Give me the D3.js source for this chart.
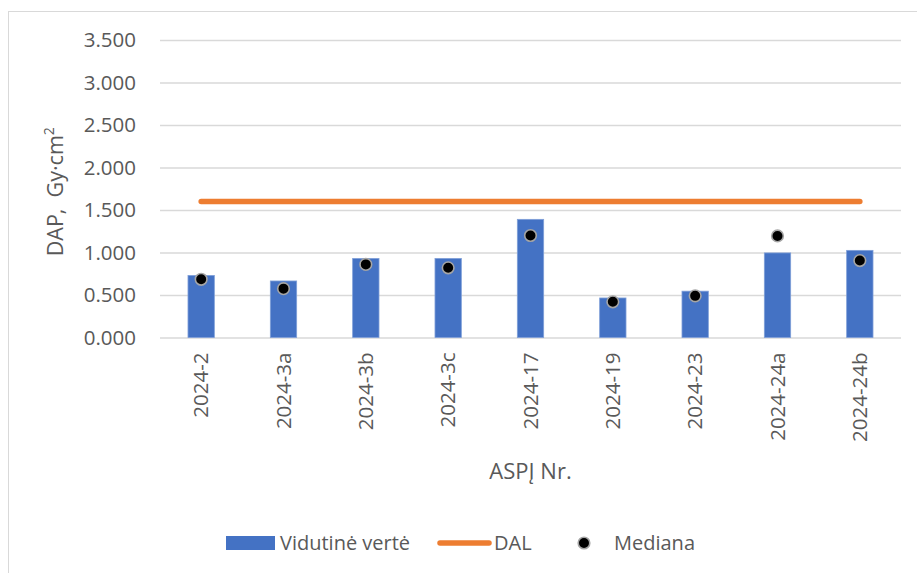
<!DOCTYPE html>
<html>
<head>
<meta charset="utf-8">
<script src="https://cdn.jsdelivr.net/npm/d3@7"></script>
<style>
  body { margin: 0; background: #fff; }
  text { font-family: "Open Sans", sans-serif; fill: #595959; }
</style>
</head>
<body>
<div id="chart"></div>
<script>
// chart data
var categories = ["2024-2", "2024-3a", "2024-3b", "2024-3c", "2024-17", "2024-19", "2024-23", "2024-24a", "2024-24b"];
var meanValues = [0.73, 0.665, 0.93, 0.93, 1.39, 0.465, 0.545, 0.995, 1.025];
var medianValues = [0.685, 0.575, 0.86, 0.82, 1.2, 0.42, 0.49, 1.195, 0.905];
var dalValue = 1.6;
var yTicks = [0, 0.5, 1, 1.5, 2, 2.5, 3, 3.5];

var width = 917;
var height = 573;

var svg = d3.select('#chart')
  .append('svg')
  .attr('width', width)
  .attr('height', height);

// outer chart border
svg.append('rect')
  .attr('x', 8.5).attr('y', 11.5)
  .attr('width', 920).attr('height', 580)
  .attr('fill', 'none')
  .attr('stroke', '#d9d9d9')
  .attr('stroke-width', 1);

var x = d3.scaleBand()
  .domain(categories)
  .range([160, 901])
  .paddingInner(0.68)
  .paddingOuter(0.34);

var y = d3.scaleLinear()
  .domain([0, 3.5])
  .range([337.5, 40]);

var fmt = function(d) { return d3.format('.3f')(d); };

// gridlines + y labels
var yAxis = d3.axisLeft(y)
  .tickValues(yTicks)
  .tickFormat(fmt)
  .tickSize(-(901 - 160))
  .tickPadding(24);

var gy = svg.append('g')
  .attr('transform', 'translate(160,0)')
  .call(yAxis);
gy.select('.domain').remove();
gy.selectAll('line').attr('stroke', '#d9d9d9').attr('stroke-width', 1.5);
gy.selectAll('text')
  .style('font-size', '20.5px')
  .attr('fill', '#595959');

// x labels, rotated
var xAxis = d3.axisBottom(x).tickSize(0).tickPadding(0);
var gx = svg.append('g')
  .attr('transform', 'translate(0,' + y(0) + ')')
  .call(xAxis);
gx.select('.domain').remove();
gx.selectAll('text')
  .style('font-size', '20.5px')
  .attr('fill', '#595959')
  .attr('text-anchor', 'end')
  .attr('transform', 'rotate(-90)')
  .attr('x', -15)
  .attr('y', 0)
  .attr('dy', '0.35em');

// bars
svg.append('g')
  .selectAll('rect')
  .data(meanValues)
  .enter()
  .append('rect')
  .attr('x', (d, i) => x(categories[i]))
  .attr('y', d => y(d))
  .attr('width', x.bandwidth())
  .attr('height', d => y(0) - y(d))
  .attr('fill', '#4472c4')
  .attr('stroke', '#7f9fd8')
  .attr('stroke-width', 0.8);

// DAL line
var line = d3.line()
  .x(d => x(d) + x.bandwidth() / 2)
  .y(() => y(dalValue));

svg.append('path')
  .datum(categories)
  .attr('d', line)
  .attr('fill', 'none')
  .attr('stroke', '#ed7d31')
  .attr('stroke-width', 5.5)
  .attr('stroke-linecap', 'round');

// medians
svg.append('g')
  .selectAll('circle')
  .data(medianValues)
  .enter()
  .append('circle')
  .attr('cx', (d, i) => x(categories[i]) + x.bandwidth() / 2)
  .attr('cy', d => y(d))
  .attr('r', 5.8)
  .attr('fill', '#000')
  .attr('stroke', '#a5a5a5')
  .attr('stroke-width', 1.6);

// axis titles
svg.append('text')
  .attr('transform', 'translate(63,' + ((y(0) + y(3.5)) / 2 + 3) + ') rotate(-90)')
  .attr('text-anchor', 'middle')
  .style('font-size', '21.5px')
  .style('white-space', 'pre')
  .html('DAP,  Gy·cm<tspan dy="-9" style="font-size:14px">2</tspan>');

svg.append('text')
  .attr('x', (160 + 901) / 2)
  .attr('y', 479)
  .attr('text-anchor', 'middle')
  .style('font-size', '22px')
  .text('ASPĮ Nr.');

// legend
var lg = svg.append('g').attr('transform', 'translate(0,543)');
lg.append('rect')
  .attr('x', 226).attr('y', -7)
  .attr('width', 49).attr('height', 14)
  .attr('fill', '#4472c4');
lg.append('text')
  .attr('x', 280).attr('y', 0).attr('dy', '0.35em')
  .style('font-size', '20px')
  .text('Vidutinė vertė');
lg.append('line')
  .attr('x1', 440).attr('x2', 489)
  .attr('y1', 0).attr('y2', 0)
  .attr('stroke', '#ed7d31')
  .attr('stroke-width', 5.5)
  .attr('stroke-linecap', 'round');
lg.append('text')
  .attr('x', 494).attr('y', 0).attr('dy', '0.35em')
  .style('font-size', '20px')
  .text('DAL');
lg.append('circle')
  .attr('cx', 584).attr('cy', 0)
  .attr('r', 5.8)
  .attr('fill', '#000')
  .attr('stroke', '#a5a5a5')
  .attr('stroke-width', 1.6);
lg.append('text')
  .attr('x', 614).attr('y', 0).attr('dy', '0.35em')
  .style('font-size', '20px')
  .text('Mediana');
</script>
</body>
</html>
